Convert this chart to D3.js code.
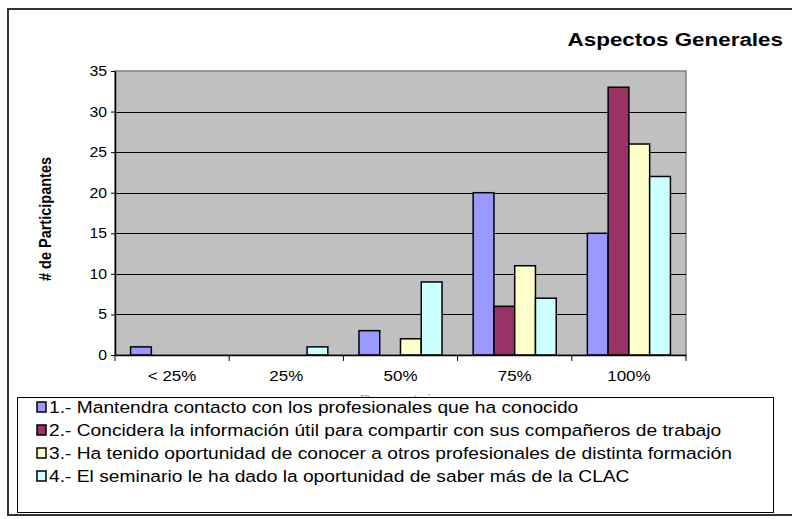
<!DOCTYPE html>
<html>
<head>
<meta charset="utf-8">
<script src="https://cdn.jsdelivr.net/npm/d3@7"></script>
<style>
  body { margin: 0; background: #fff; }
  svg { display: block; font-family: "Liberation Sans", Arial, sans-serif; }
</style>
</head>
<body>
<div id="root"></div>
<script>
var categories = ["< 25%", "25%", "50%", "75%", "100%"];
var seriesNames = [
  "1.- Mantendra contacto con los profesionales que ha conocido",
  "2.- Concidera la información útil para compartir con sus compañeros de trabajo",
  "3.- Ha tenido oportunidad de conocer a otros profesionales de distinta formación",
  "4.- El seminario le ha dado la oportunidad de saber más de la CLAC"
];
var serie1 = [1, 0, 3, 20, 15];
var serie2 = [0, 0, 0, 6, 33];
var serie3 = [0, 0, 2, 11, 26];
var serie4 = [0, 1, 9, 7, 22];
var yTicks = [0, 5, 10, 15, 20, 25, 30, 35];
var colors = ["#9999ff", "#993366", "#ffffcc", "#ccffff"];

function drawChart() {
    var width = 792, height = 519;
    var sx = 1.13; // text in the original is a bit wide

    var svg = d3.select("#root").append("svg")
        .attr("width", width)
        .attr("height", height);

    // outer frame
    svg.append("rect")
        .attr("x", 8).attr("y", 9)
        .attr("width", 800).attr("height", 506)
        .attr("fill", "#fff")
        .attr("stroke", "#333")
        .attr("stroke-width", 2);

    svg.append("text")
        .attr("transform", "translate(783,46) scale(1.18,1)")
        .attr("text-anchor", "end")
        .attr("font-size", "19px")
        .attr("font-weight", "bold")
        .text("Aspectos Generales");

    var pLeft = 115, pRight = 686, pTop = 71, pBottom = 355;

    var x = d3.scaleBand().domain(categories).range([pLeft, pRight]);
    var bw = x.bandwidth() / 5.5;
    var y = d3.scaleLinear().domain([0, 35]).range([pBottom, pTop]);

    svg.append("rect")
        .attr("x", pLeft).attr("y", pTop)
        .attr("width", pRight - pLeft).attr("height", pBottom - pTop)
        .attr("fill", "#c0c0c0")
        .attr("stroke", "#808080")
        .attr("stroke-width", 1.5);

    // gridlines
    svg.append("g").selectAll("line")
        .data(yTicks.filter(function (d) { return d > 0 && d < 35; }))
        .enter().append("line")
        .attr("x1", pLeft).attr("x2", pRight)
        .attr("y1", function (d) { return Math.round(y(d)) + 0.5; })
        .attr("y2", function (d) { return Math.round(y(d)) + 0.5; })
        .attr("stroke", "#000")
        .attr("stroke-width", 1);

    var allSeries = [serie1, serie2, serie3, serie4];
    allSeries.forEach(function (vals, si) {
        var pts = vals.map(function (v, i) { return { cat: categories[i], v: v }; })
            .filter(function (d) { return d.v > 0; });
        svg.append("g").selectAll("rect")
            .data(pts)
            .enter().append("rect")
            .attr("x", function (d) { return x(d.cat) + bw * 0.75 + si * bw; })
            .attr("y", function (d) { return y(d.v); })
            .attr("width", bw)
            .attr("height", function (d) { return pBottom - y(d.v); })
            .attr("fill", colors[si])
            .attr("stroke", "#000")
            .attr("stroke-width", 1.5);
    });

    // axes
    var yAxis = svg.append("g")
        .attr("transform", "translate(" + pLeft + ",0)")
        .call(d3.axisLeft(y).tickValues(yTicks).tickSize(4).tickSizeOuter(0).tickPadding(3));
    yAxis.select(".domain").attr("stroke", "#000").attr("stroke-width", 1.5);
    yAxis.selectAll("text")
        .attr("font-size", "14px")
        .attr("font-family", "Liberation Sans, Arial, sans-serif")
        .attr("fill", "#000")
        .attr("transform", "scale(" + sx + ",1)");

    var xAxis = svg.append("g")
        .attr("transform", "translate(0," + pBottom + ")")
        .call(d3.axisBottom(x).tickSize(0).tickSizeOuter(0));
    xAxis.select(".domain").attr("stroke", "#000").attr("stroke-width", 1.5);
    xAxis.selectAll("text")
        .attr("font-size", "15px")
        .attr("font-family", "Liberation Sans, Arial, sans-serif")
        .attr("fill", "#000")
        .attr("dy", "1.55em")
        .attr("transform", "scale(" + sx + ",1)");

    // category separators
    svg.append("g").selectAll("line")
        .data(d3.range(categories.length + 1))
        .enter().append("line")
        .attr("x1", function (i) { return pLeft + i * x.bandwidth(); })
        .attr("x2", function (i) { return pLeft + i * x.bandwidth(); })
        .attr("y1", pBottom).attr("y2", pBottom + 6)
        .attr("stroke", "#000");

    svg.append("text")
        .attr("transform", "translate(51,219) scale(" + sx + ",1) rotate(-90)")
        .attr("text-anchor", "middle")
        .attr("font-size", "14.5px")
        .attr("font-weight", "bold")
        .text("# de Participantes");

    // x title, mostly hidden behind the legend
    svg.append("text")
        .attr("transform", "translate(400,405) scale(" + sx + ",1)")
        .attr("text-anchor", "middle")
        .attr("font-size", "15px")
        .attr("fill", "#aaa")
        .text("Porcentaje");

    // legend
    var lg = svg.append("g");
    lg.append("rect")
        .attr("x", 17.5).attr("y", 397.5)
        .attr("width", 756).attr("height", 115)
        .attr("fill", "#fff")
        .attr("stroke", "#000")
        .attr("stroke-width", 1);

    var items = lg.selectAll("g.item")
        .data(seriesNames)
        .enter().append("g")
        .attr("class", "item")
        .attr("transform", function (d, i) { return "translate(37," + (407 + i * 23) + ")"; });
    items.append("rect")
        .attr("x", 0).attr("y", -5)
        .attr("width", 9).attr("height", 10)
        .attr("fill", function (d, i) { return colors[i]; })
        .attr("stroke", "#000")
        .attr("stroke-width", 1.5);
    items.append("text")
        .attr("transform", "translate(12,6) scale(" + sx + ",1)")
        .attr("font-size", "17px")
        .text(function (d) { return d; });
}

drawChart();
</script>
</body>
</html>
